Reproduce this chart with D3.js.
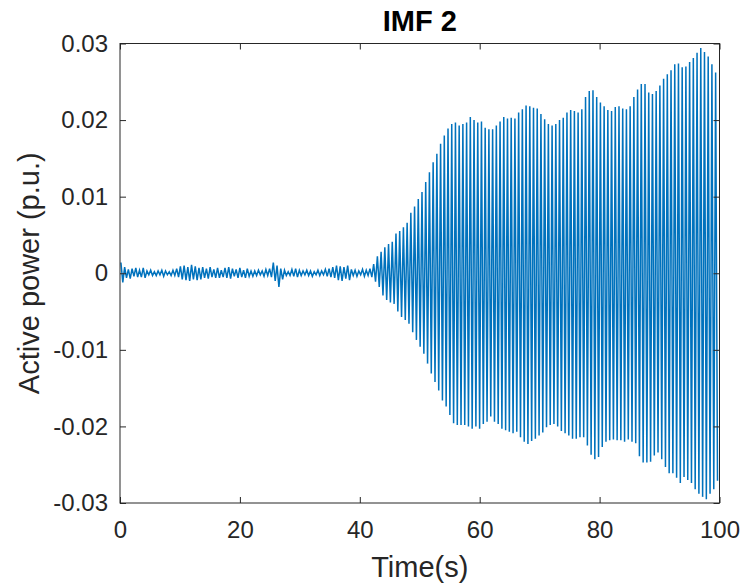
<!DOCTYPE html>
<html>
<head>
<meta charset="utf-8">
<script src="https://cdn.jsdelivr.net/npm/d3@7"></script>
<style>
  html, body { margin: 0; padding: 0; background: #ffffff; }
  svg { display: block; }
</style>
</head>
<body>
<svg id="chart" width="743" height="588"></svg>
<script>
// ---------------- DATA ----------------
const chartTitle = "IMF 2";
const xLabel = "Time(s)";
const yLabel = "Active power (p.u.)";
const xTicks = [0, 20, 40, 60, 80, 100];
const xTickLabels = ["0", "20", "40", "60", "80", "100"];
const yTicks = [0.03, 0.02, 0.01, 0, -0.01, -0.02, -0.03];
const yTickLabels = ["0.03", "0.02", "0.01", "0", "-0.01", "-0.02", "-0.03"];
const xDomain = [0, 100];
const yDomain = [-0.03, 0.03];

// oscillation: one positive and one negative extreme per cycle
const cyclePeriod = 0.62;   // seconds per oscillation cycle

// positive peak of each cycle (p.u.)
const upperPeaks = [
  0.0014, 0.0008, 0.0005, 0.0006, 0.0007, 0.0004, 0.0007,
  0.0003, 0.0004, 0.0002, 0.0003, 0.0004, 0.0003, 0.0002, 0.0004,
  0.0006, 0.0009, 0.0010, 0.0008, 0.0011, 0.0009, 0.0007, 0.0008,
  0.0006, 0.0008, 0.0005, 0.0007, 0.0004, 0.0007, 0.0008,
  0.0006, 0.0005, 0.0007, 0.0004, 0.0006, 0.0003,
  0.0003, 0.0004, 0.0003, 0.0005, 0.0006,
  0.0014, 0.0010, 0.0006,
  0.0004, 0.0002, 0.0005, 0.0006, 0.0004,
  0.0003, 0.0004, 0.0003, 0.0002, 0.0004, 0.0003, 0.0005, 0.0006,
  0.0008, 0.0010, 0.0009, 0.0008, 0.0010,
  0.0005, 0.0004, 0.0003, 0.0005, 0.0004,
  0.0006, 0.0012, 0.0022, 0.0028, 0.0034, 0.0038, 0.0041, 0.0052, 0.0055, 0.0060,
  0.0066, 0.0079, 0.0087, 0.0097, 0.0106, 0.0119, 0.0132, 0.0145, 0.0156, 0.0169,
  0.0180, 0.0189, 0.0195, 0.0197, 0.0193, 0.0195, 0.0197, 0.0204, 0.0200, 0.0197,
  0.0198, 0.0190, 0.0188, 0.0188, 0.0193, 0.0198, 0.0204, 0.0202, 0.0203, 0.0202,
  0.0210, 0.0214, 0.0219, 0.0218, 0.0216, 0.0215, 0.0208, 0.0201, 0.0195, 0.0193,
  0.0195, 0.0200, 0.0203, 0.0210, 0.0213, 0.0212, 0.0210, 0.0214, 0.0230, 0.0238,
  0.0239, 0.0230,
  0.0223, 0.0218, 0.0213, 0.0212, 0.0217, 0.0218, 0.0215, 0.0214, 0.0218, 0.0230,
  0.0240, 0.0247, 0.0247, 0.0236, 0.0234, 0.0238, 0.0245, 0.0254, 0.0260, 0.0265,
  0.0273, 0.0274, 0.0269, 0.0270, 0.0276, 0.0281, 0.0288, 0.0294, 0.0289, 0.0283,
  0.0273, 0.0262
];

// negative peak of each cycle (p.u.)
const lowerPeaks = [
  -0.0012, -0.0006, -0.0007, -0.0004, -0.0005, -0.0005, -0.0006,
  -0.0002, -0.0003, -0.0003, -0.0002, -0.0004, -0.0002, -0.0003, -0.0003,
  -0.0005, -0.0008, -0.0009, -0.0010, -0.0008, -0.0009, -0.0008, -0.0006,
  -0.0007, -0.0005, -0.0006, -0.0006, -0.0005, -0.0006, -0.0007,
  -0.0004, -0.0006, -0.0005, -0.0006, -0.0004, -0.0004,
  -0.0003, -0.0002, -0.0004, -0.0003, -0.0005,
  -0.0010, -0.0018, -0.0008,
  -0.0003, -0.0003, -0.0004, -0.0005, -0.0003,
  -0.0002, -0.0003, -0.0004, -0.0002, -0.0003, -0.0002, -0.0004, -0.0005,
  -0.0006, -0.0009, -0.0010, -0.0007, -0.0009,
  -0.0003, -0.0004, -0.0002, -0.0004, -0.0003,
  -0.0005, -0.0011, -0.0018, -0.0029, -0.0035, -0.0038, -0.0040, -0.0050, -0.0057, -0.0061,
  -0.0066, -0.0077, -0.0087, -0.0096, -0.0105, -0.0118, -0.0131, -0.0142, -0.0153, -0.0166,
  -0.0174, -0.0185, -0.0196, -0.0198, -0.0198, -0.0198, -0.0200, -0.0203, -0.0200, -0.0203,
  -0.0197, -0.0194, -0.0187, -0.0194, -0.0197, -0.0203, -0.0205, -0.0207, -0.0209, -0.0207,
  -0.0214, -0.0220, -0.0223, -0.0219, -0.0216, -0.0212, -0.0208, -0.0201, -0.0198, -0.0197,
  -0.0200, -0.0206, -0.0209, -0.0212, -0.0216, -0.0216, -0.0214, -0.0214, -0.0225, -0.0237,
  -0.0243, -0.0240,
  -0.0227, -0.0220, -0.0218, -0.0217, -0.0218, -0.0218, -0.0220, -0.0217, -0.0220, -0.0222,
  -0.0239, -0.0247, -0.0247, -0.0246, -0.0238, -0.0234, -0.0243, -0.0253, -0.0261, -0.0261,
  -0.0267, -0.0274, -0.0266, -0.0270, -0.0274, -0.0282, -0.0288, -0.0292, -0.0295, -0.0288,
  -0.0282, -0.0271
];

// ---------------- LAYOUT / STYLE ----------------
const W = 743, H = 588;
const plot = { left: 120, right: 719.5, top: 43.5, bottom: 503 };
const lineColor = "#0072BD";
const axisColor = "#262626";
const fontFamily = "'Liberation Sans', Arial, Helvetica, sans-serif";

const svg = d3.select("#chart");
svg.append("rect").attr("width", W).attr("height", H).attr("fill", "#ffffff");

const x = d3.scaleLinear().domain(xDomain).range([plot.left, plot.right]);
const y = d3.scaleLinear().domain(yDomain).range([plot.bottom, plot.top]);

// build the series: one max and one min per cycle
const series = [];
upperPeaks.forEach((u, i) => {
  series.push({ t: i * cyclePeriod + cyclePeriod * 0.25, v: u });
  series.push({ t: i * cyclePeriod + cyclePeriod * 0.75, v: lowerPeaks[i] });
});

const line = d3.line()
  .x(d => x(d.t))
  .y(d => y(d.v));

svg.append("path")
  .datum(series)
  .attr("d", line)
  .attr("fill", "none")
  .attr("stroke", lineColor)
  .attr("stroke-width", 1.5)
  .attr("stroke-linejoin", "miter");

// ---------------- AXES ----------------
const tickLen = 6;
function styleAxis(g, showText) {
  g.select(".domain").remove();
  g.selectAll(".tick line").attr("stroke", axisColor).attr("stroke-width", 1);
  g.selectAll(".tick text")
    .attr("fill", axisColor)
    .style("font-family", fontFamily)
    .style("font-size", "24px");
  if (!showText) g.selectAll(".tick text").remove();
}

svg.append("g")
  .attr("transform", `translate(0,${plot.bottom})`)
  .call(d3.axisBottom(x).tickValues(xTicks)
    .tickFormat((d, i) => xTickLabels[i])
    .tickSizeInner(-tickLen).tickSizeOuter(0).tickPadding(18))
  .call(g => styleAxis(g, true));

svg.append("g")
  .attr("transform", `translate(0,${plot.top})`)
  .call(d3.axisTop(x).tickValues(xTicks)
    .tickFormat("")
    .tickSizeInner(-tickLen).tickSizeOuter(0))
  .call(g => styleAxis(g, false));

svg.append("g")
  .attr("transform", `translate(${plot.left},0)`)
  .call(d3.axisLeft(y).tickValues(yTicks)
    .tickFormat((d, i) => yTickLabels[i])
    .tickSizeInner(-tickLen).tickSizeOuter(0).tickPadding(12))
  .call(g => styleAxis(g, true));

svg.append("g")
  .attr("transform", `translate(${plot.right},0)`)
  .call(d3.axisRight(y).tickValues(yTicks)
    .tickFormat("")
    .tickSizeInner(-tickLen).tickSizeOuter(0))
  .call(g => styleAxis(g, false));

// box
svg.append("rect")
  .attr("x", plot.left).attr("y", plot.top)
  .attr("width", plot.right - plot.left)
  .attr("height", plot.bottom - plot.top)
  .attr("fill", "none")
  .attr("stroke", axisColor)
  .attr("stroke-width", 1);

// ---------------- TEXT ----------------
svg.append("text")
  .attr("x", (plot.left + plot.right) / 2)
  .attr("y", 31)
  .attr("text-anchor", "middle")
  .style("font-family", fontFamily)
  .style("font-size", "29px")
  .style("font-weight", "bold")
  .attr("fill", "#000000")
  .text(chartTitle);

svg.append("text")
  .attr("x", (plot.left + plot.right) / 2)
  .attr("y", 577)
  .attr("text-anchor", "middle")
  .style("font-family", fontFamily)
  .style("font-size", "29px")
  .attr("fill", axisColor)
  .text(xLabel);

svg.append("text")
  .attr("transform", `translate(39,${(plot.top + plot.bottom) / 2}) rotate(-90)`)
  .attr("text-anchor", "middle")
  .style("font-family", fontFamily)
  .style("font-size", "29px")
  .attr("fill", axisColor)
  .text(yLabel);
</script>
</body>
</html>
